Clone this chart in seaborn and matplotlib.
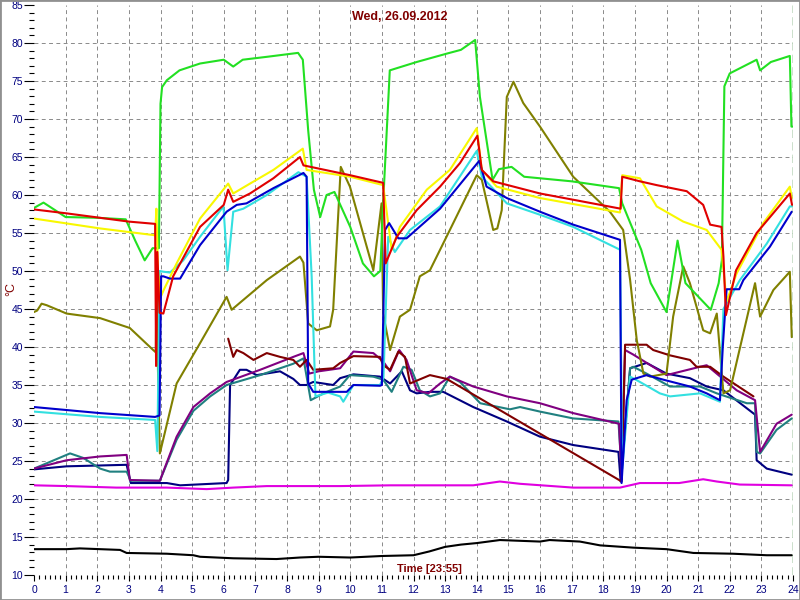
import numpy as np
import seaborn as sns
import matplotlib
matplotlib.use("Agg")
import matplotlib.pyplot as plt
from matplotlib.patches import Rectangle
from matplotlib.ticker import MultipleLocator

# ---- data (hours, deg C) ----
green_h = [0, 0.3, 1, 2, 2.9, 3.2, 3.5, 3.75, 3.95, 4.0, 4.05, 4.2, 4.6, 5.25, 6.0, 6.3, 6.6, 7.4,
           8.35, 8.5, 8.67, 8.85, 9.05, 9.25, 9.5, 10.0, 10.4, 10.75, 10.95, 11.05, 11.25, 12.1,
           13.05, 13.5, 13.95, 14.1, 14.5, 14.7, 15.1, 15.5, 17.0, 18.5, 18.6, 19.2, 19.5, 20.0,
           20.35, 20.6, 21.4, 21.65, 21.75, 21.83, 22.0, 22.85, 22.96, 23.3, 23.9, 23.95, 24.0]
green_v = [58.3, 59.0, 57.1, 57.0, 56.8, 54.0, 51.4, 53.0, 53.0, 72.0, 74.2, 75.1, 76.4, 77.3,
           77.8, 76.9, 77.8, 78.2, 78.7, 77.8, 68.5, 60.7, 57.1, 60.0, 60.4, 55.8, 51.0, 49.3,
           50.0, 59.8, 76.4, 77.5, 78.6, 79.1, 80.4, 72.9, 62.0, 63.4, 63.7, 62.4, 61.8, 60.9,
           58.9, 52.8, 48.4, 44.6, 54.0, 48.4, 44.9, 48.4, 51.4, 74.3, 76.0, 77.8, 76.4, 77.5,
           78.3, 69.0, 69.0]

red_h = [0, 1, 3, 3.83, 3.86, 3.9, 3.97, 4.09, 4.4, 5.25, 6.0, 6.14, 6.3, 6.83, 7.57, 8.41,
         8.52, 10.0, 11.04, 11.12, 11.47, 12.1, 12.84, 13.47, 14.02, 14.16, 14.52, 16.0, 18.55,
         18.6, 19.16, 19.69, 20.64, 21.16, 21.38, 21.74, 21.8, 21.88, 22.2, 22.85, 23.9, 23.97]
red_v = [58.1, 57.6, 56.5, 56.2, 37.5, 52.5, 44.5, 44.4, 49.3, 55.8, 58.7, 60.7, 59.1, 60.2,
         62.2, 65.0, 63.9, 62.6, 61.6, 51.0, 54.5, 58.0, 61.1, 64.2, 67.8, 63.3, 61.8, 60.2,
         58.2, 62.4, 61.8, 61.3, 60.5, 58.7, 56.1, 55.8, 51.9, 44.2, 50.1, 55.0, 60.2, 58.7]

yellow_h = [0, 2.09, 3.83, 3.87, 3.92, 4.0, 4.1, 4.51, 5.25, 6.14, 6.3, 6.83, 7.57, 8.5, 8.62,
            10.0, 11.04, 11.31, 11.57, 12.42, 13.15, 14.0, 14.16, 14.63, 16.0, 18.53, 18.6,
            19.16, 19.69, 20.53, 21.27, 21.74, 21.9, 22.22, 23.06, 23.9, 23.96]
yellow_v = [56.9, 55.6, 54.7, 58.2, 50.0, 46.5, 47.5, 51.0, 56.9, 61.5, 60.2, 61.5, 63.3, 66.1,
            63.3, 62.4, 61.3, 52.8, 55.8, 60.7, 63.3, 68.8, 63.3, 61.1, 59.6, 57.7, 62.6, 62.2,
            58.5, 56.5, 55.4, 52.8, 46.0, 49.7, 56.3, 61.1, 59.6]

cyan_h = [0, 2.09, 3.83, 3.9, 3.97, 4.1, 4.3, 4.72, 5.25, 5.99, 6.12, 6.3, 6.62, 7.36, 8.36,
          8.62, 8.78, 8.9, 9.3, 9.68, 9.78, 10.1, 10.94, 11.05, 11.2, 11.41, 11.89, 12.84, 14.0,
          14.16, 14.95, 16.0, 17.05, 18.53, 18.6, 18.85, 19.16, 19.79, 20.11, 21.06, 21.69,
          21.8, 22.32, 23.17, 23.9, 23.96]
cyan_v = [31.5, 30.8, 30.4, 26.3, 50.0, 49.9, 49.8, 51.4, 54.5, 58.5, 50.1, 57.8, 58.2, 60.0,
          63.0, 62.4, 49.3, 33.5, 34.0, 33.5, 32.8, 35.0, 35.0, 36.0, 54.5, 52.5, 55.4, 58.5,
          65.8, 62.4, 58.9, 57.4, 55.8, 52.8, 24.0, 36.1, 35.4, 33.9, 33.5, 33.9, 32.8, 45.0,
          48.8, 53.6, 58.5, 58.5]

blue_h = [0, 2.09, 3.83, 3.97, 4.02, 4.09, 4.3, 4.62, 5.25, 6.09, 6.41, 6.72, 7.57, 8.52, 8.62,
          8.67, 8.83, 9.89, 10.1, 10.94, 11.0, 11.1, 11.23, 11.52, 11.78, 12.84, 14.08, 14.31,
          14.95, 16.0, 17.05, 18.53, 18.58, 18.74, 18.9, 19.37, 19.9, 20.74, 21.27, 21.69,
          21.78, 21.9, 22.3, 22.43, 23.27, 23.96]
blue_v = [32.1, 31.3, 30.8, 31.0, 49.3, 49.3, 49.0, 49.0, 53.4, 57.8, 58.7, 58.9, 60.9, 62.9,
          62.4, 35.2, 34.1, 34.1, 35.0, 34.9, 35.0, 55.4, 56.3, 54.3, 54.3, 58.2, 64.5, 61.1,
          59.6, 57.8, 56.1, 54.1, 22.1, 33.0, 35.7, 36.3, 35.7, 34.8, 33.9, 33.0, 40.0, 47.6,
          47.6, 48.8, 53.2, 57.8]

olive_h = [0, 0.1, 0.24, 0.4, 1.03, 2.09, 3.03, 3.77, 3.85, 3.88, 3.92, 3.98, 4.51, 5.25, 6.09,
           6.25, 7.36, 8.41, 8.52, 8.67, 8.94, 9.36, 9.46, 9.7, 9.99, 10.73, 10.99, 11.04, 11.26,
           11.57, 11.89, 12.2, 12.52, 13.15, 14.0, 14.16, 14.52, 14.65, 14.79, 14.95, 15.16,
           15.47, 16.0, 17.05, 18.21, 18.63, 18.85, 19.06, 19.27, 19.48, 20.0, 20.21, 20.53,
           20.74, 21.16, 21.38, 21.59, 21.8, 22.01, 22.43, 22.8, 22.96, 23.38, 23.9, 23.96]
olive_v = [44.6, 44.8, 45.7, 45.5, 44.4, 43.8, 42.5, 39.6, 39.3, 50.5, 37.0, 26.0, 35.2, 40.5,
           46.6, 44.9, 48.8, 51.9, 51.1, 43.1, 42.2, 42.7, 44.9, 63.7, 61.1, 50.1, 58.9, 44.4,
           39.6, 44.0, 44.9, 49.3, 50.1, 55.4, 62.6, 62.0, 55.4, 55.6, 58.0, 72.9, 74.9, 72.1,
           69.0, 62.4, 57.8, 55.4, 48.8, 40.9, 36.5, 36.1, 36.5, 44.0, 50.6, 48.4, 42.2, 41.8,
           44.4, 33.9, 34.3, 41.8, 48.4, 44.0, 47.5, 49.9, 41.3]

maroon_h = [6.14, 6.3, 6.41, 6.62, 6.94, 7.36, 7.78, 8.2, 8.41, 8.62, 8.83, 9.46, 9.68, 10.1,
            10.94, 11.04, 11.26, 11.52, 11.73, 11.89, 12.52, 13.05, 18.5, 18.58, 18.69, 19.37,
            19.58, 20.11, 20.74, 20.95, 21.38, 21.8, 22.75]
maroon_v = [41.1, 38.7, 39.6, 39.2, 38.3, 39.2, 38.7, 38.3, 37.4, 38.3, 37.0, 37.2, 37.9, 38.8,
            38.7, 37.6, 37.0, 39.4, 38.7, 35.2, 36.3, 35.8, 22.5, 22.3, 40.3, 40.3, 39.6, 38.9,
            38.3, 37.4, 37.4, 36.1, 33.5]

purple_h = [0, 1.03, 2.09, 2.93, 3.03, 3.98, 4.51, 5.04, 5.57, 6.09, 7.15, 8.2, 8.52, 8.7, 9.0,
            9.68, 10.1, 10.73, 11.04, 11.26, 11.55, 11.78, 12.1, 12.47, 12.84, 13.15, 13.89,
            14.95, 16.0, 17.05, 18.5, 18.58, 18.69, 18.95, 20.0, 21.06, 21.27, 22.22, 22.8,
            22.96, 23.48, 23.96]
purple_v = [24.0, 25.1, 25.6, 25.8, 22.5, 22.4, 28.2, 32.1, 33.9, 35.4, 37.0, 38.7, 39.2, 36.5,
            36.8, 37.2, 39.4, 39.2, 38.1, 36.8, 39.6, 38.3, 34.3, 33.9, 35.2, 36.1, 34.8, 33.5,
            32.6, 31.3, 29.9, 22.5, 39.6, 39.0, 36.3, 37.4, 37.6, 34.3, 33.0, 26.2, 29.9, 31.1]

teal_h = [0, 0.4, 1.14, 1.56, 2.09, 2.4, 2.93, 3.06, 3.98, 4.51, 5.04, 5.57, 6.09, 7.15, 8.2,
          8.52, 8.75, 9.2, 9.68, 9.99, 10.73, 11.04, 11.31, 11.68, 11.94, 12.2, 12.52, 12.84,
          13.15, 13.47, 14.11, 15.05, 15.37, 16.0, 17.05, 18.48, 18.58, 18.85, 18.95, 19.37,
          20.11, 21.06, 21.59, 22.54, 22.8, 22.85, 22.96, 23.48, 23.96]
teal_v = [24.0, 24.7, 26.0, 25.4, 24.0, 23.6, 23.6, 22.4, 22.4, 27.8, 31.6, 33.5, 35.0, 36.3,
          37.8, 38.5, 33.0, 34.0, 34.8, 36.3, 36.1, 35.7, 34.1, 37.4, 37.0, 34.3, 33.5, 33.9,
          36.1, 35.4, 32.6, 31.8, 32.1, 31.5, 30.6, 30.2, 23.8, 37.2, 37.4, 36.5, 34.8, 34.8,
          33.9, 32.6, 32.6, 26.2, 26.0, 29.1, 30.6]

navy_h = [0, 1.03, 2.93, 3.06, 4.2, 4.62, 6.09, 6.14, 6.2, 6.51, 6.72, 7.04, 7.78, 8.2, 8.41,
          8.62, 8.83, 9.46, 9.68, 10.1, 10.94, 11.26, 11.63, 11.89, 12.1, 12.52, 12.94, 13.89,
          14.95, 16.0, 17.05, 18.48, 18.55, 18.85, 19.37, 20.0, 20.74, 21.27, 21.8, 22.8, 22.85,
          23.17, 23.96]
navy_v = [23.9, 24.3, 24.5, 22.1, 22.1, 21.8, 22.1, 22.5, 35.0, 37.0, 37.0, 36.3, 36.8, 35.8,
          35.0, 35.0, 35.4, 35.0, 35.9, 36.4, 36.1, 35.2, 36.8, 34.3, 33.9, 34.1, 34.1, 32.1,
          30.2, 28.2, 27.1, 26.2, 22.3, 37.2, 37.9, 36.5, 35.9, 34.8, 34.3, 31.1, 25.1, 24.0,
          23.2]

magenta_h = [0, 1.03, 2.6, 4.2, 5.46, 6.3, 7.36, 8.41, 9.68, 11.26, 13.89, 14.73, 15.37, 17.05,
             18.53, 19.16, 20.4, 21.16, 21.59, 22.32, 23.96]
magenta_v = [21.8, 21.7, 21.5, 21.5, 21.3, 21.5, 21.7, 21.7, 21.7, 21.8, 21.8, 22.3, 22.0, 21.5,
             21.5, 22.1, 22.1, 22.6, 22.3, 21.9, 21.8]

black_h = [0, 1.03, 1.45, 2.72, 2.93, 4.2, 5.04, 5.25, 6.3, 7.67, 8.41, 9.0, 10.0, 11.0, 12.0,
           12.5, 13.0, 13.5, 14.0, 14.73, 16.0, 16.3, 17.26, 17.9, 18.95, 20.0, 20.85, 22.1,
           23.17, 23.59, 23.96]
black_v = [13.4, 13.4, 13.5, 13.3, 12.9, 12.8, 12.6, 12.4, 12.2, 12.1, 12.3, 12.4, 12.3, 12.5,
           12.6, 13.1, 13.7, 14.0, 14.2, 14.6, 14.4, 14.6, 14.4, 13.9, 13.6, 13.4, 12.9, 12.8,
           12.6, 12.6, 12.6]

series = [
    (black_h, black_v, "black"),
    (magenta_h, magenta_v, "#e000e0"),
    (navy_h, navy_v, "#000080"),
    (teal_h, teal_v, "#208080"),
    (purple_h, purple_v, "#800080"),
    (maroon_h, maroon_v, "#800000"),
    (olive_h, olive_v, "#808000"),
    (green_h, green_v, "#22e022"),
    (cyan_h, cyan_v, "#33e0e0"),
    (yellow_h, yellow_v, "#f8f800"),
    (blue_h, blue_v, "#0000cc"),
    (red_h, red_v, "#e00000"),
]

sns.set_style("white")
plt.rcParams['font.family'] = ['Liberation Sans', 'DejaVu Sans']

fig = plt.figure(figsize=(8, 6), dpi=100)
ax = fig.add_axes([34 / 800, 25 / 600, 759 / 800, 570 / 600])

for h, v, c in series:
    sns.lineplot(x=h, y=v, ax=ax, color=c, lw=1.5, sort=False, estimator=None)

ax.set_xlim(0, 24)
ax.set_ylim(10, 85)
for s in ax.spines.values():
    s.set_visible(False)

ax.xaxis.set_major_locator(MultipleLocator(1))
ax.xaxis.set_minor_locator(MultipleLocator(1 / 6))
ax.yaxis.set_major_locator(MultipleLocator(5))
ax.yaxis.set_minor_locator(MultipleLocator(1))
ax.tick_params(axis='y', which='major', length=7, width=0.8, color='black', pad=1,
               labelsize=7.5, labelcolor='#000080', left=True)
ax.tick_params(axis='y', which='minor', length=3.5, width=0.8, color='black', left=True)
ax.tick_params(axis='x', which='major', length=4, width=0.8, color='black', pad=3,
               labelsize=7.5, labelcolor='#000080', bottom=True)
ax.tick_params(axis='x', which='minor', length=3, width=0.8, color='black', bottom=True)

# dashed grid
for x in range(1, 24):
    ax.axvline(x, color='#8a8a8a', lw=0.7, dashes=(4, 3.5), zorder=0)
for y in range(15, 85, 5):
    ax.axhline(y, color='#8a8a8a', lw=0.7, dashes=(4, 3.5), zorder=0)
ax.axvline(24, color='#006400', lw=1.0, dashes=(6, 3), zorder=5)

ax.set_xlabel('')
ax.set_ylabel('')
fig.text(0.5, 1 - 17 / 600, 'Wed, 26.09.2012', ha='center', va='center', fontsize=9,
         weight='bold', color='#800000')
fig.text(429 / 800, 1 - 569 / 600, 'Time [23:55]', ha='center', va='center', fontsize=8,
         weight='bold', color='#800000')
fig.text(11 / 800, 1 - 289 / 600, '°C', ha='center', va='center', rotation=90, fontsize=9,
         color='#800000')

fig.patches.append(Rectangle((0, 0), 1, 1, transform=fig.transFigure, fill=False,
                             ec='#909090', lw=2))

fig.savefig('out.png', dpi=100)
